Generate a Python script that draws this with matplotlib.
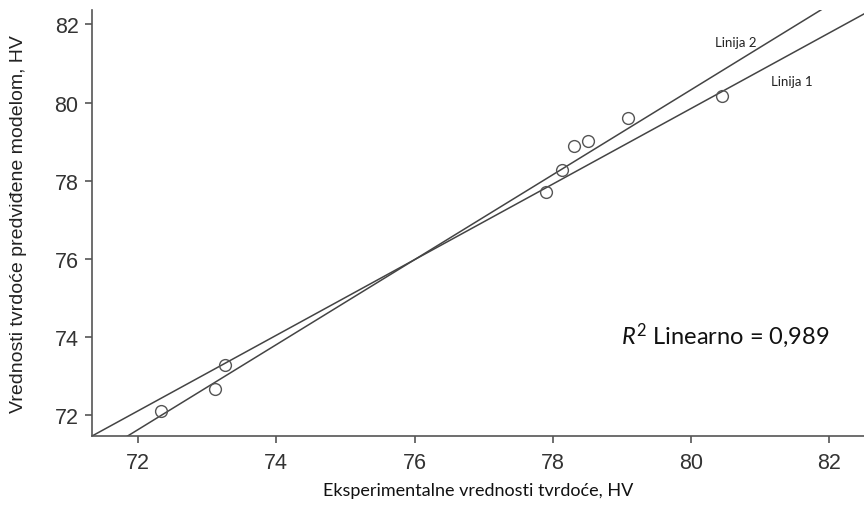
import matplotlib.pyplot as plt
import numpy as np

plt.rcParams['font.family'] = ['Liberation Sans', 'DejaVu Sans']
plt.rcParams['mathtext.fontset'] = 'custom'
plt.rcParams['mathtext.rm'] = 'Lato'
plt.rcParams['mathtext.it'] = 'Lato:italic'

# measured hardness (x) vs model-predicted hardness (y), HV
x_exp = [72.33, 73.11, 73.26, 77.90, 78.13, 78.31, 78.51, 79.08, 80.45]
y_pred = [72.10, 72.66, 73.28, 77.70, 78.27, 78.88, 79.02, 79.60, 80.18]

# lines: intercept, slope
line_names = ["Linija 1", "Linija 2"]
line_intercepts = [2.41, -6.71]
line_slopes = [0.968, 1.088]

ticks = [72, 74, 76, 78, 80, 82]

fig = plt.figure(figsize=(8.64, 5.06), dpi=100)
ax = fig.add_axes([0.107, 0.137, 0.893, 0.842])

xlim = (71.34, 82.5)
ylim = (71.47, 82.38)
xx = np.array(xlim)
for b0, b1 in zip(line_intercepts, line_slopes):
    ax.plot(xx, b0 + b1 * xx, color="#444444", lw=1.1)

ax.plot(x_exp, y_pred, linestyle="none", marker="o", markersize=8.5,
        markerfacecolor="none", markeredgecolor="#555555", markeredgewidth=1.0)

ax.set_xlim(*xlim)
ax.set_ylim(*ylim)
ax.set_xticks(ticks)
ax.set_yticks(ticks)

for s in ["top", "right"]:
    ax.spines[s].set_visible(False)
for s in ["left", "bottom"]:
    ax.spines[s].set_color("#555555")
    ax.spines[s].set_linewidth(1.2)

ax.tick_params(length=5, width=1.2, color="#555555", labelsize=15.5,
               labelcolor="#333333", pad=5)
ax.tick_params(axis="x", pad=7)

ax.set_xlabel("Eksperimentalne vrednosti tvrdoće, HV", family="Lato",
              fontsize=13, color="#111111", labelpad=6)
ax.set_ylabel("Vrednosti tvrdoće predviđene modelom, HV", family="Liberation Sans",
              fontsize=14, color="#222222", labelpad=20)

ax.text(80.65, 81.55, line_names[1], family="Lato", fontsize=9.5, color="#222222",
        ha="center", va="center")
ax.text(81.45, 80.55, line_names[0], family="Lato", fontsize=9.5, color="#222222",
        ha="center", va="center")

ax.text(82.0, 74.07, r"$R^{2}$ Linearno = 0,989", family="Lato", fontsize=17,
        color="#111111", ha="right", va="center")

fig.savefig("out.png", dpi=100)
